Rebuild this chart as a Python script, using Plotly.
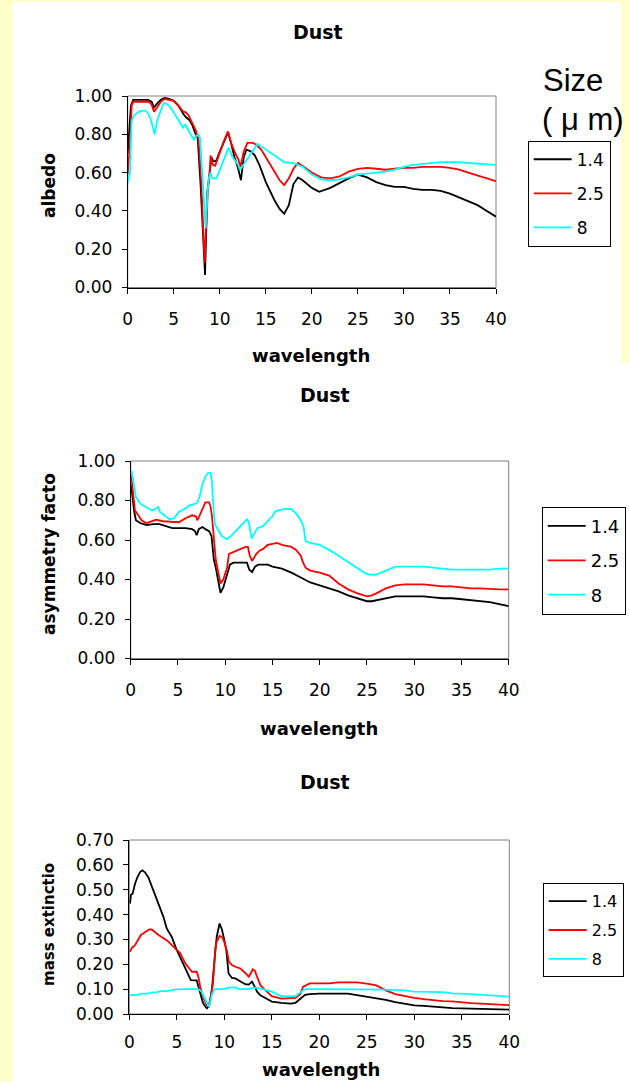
import plotly.graph_objects as go

# ---------------- data ----------------
sizes = ["1.4", "2.5", "8"]
colors = ["#000000", "#FF0000", "#00FFFF"]
x_ticks = [0, 5, 10, 15, 20, 25, 30, 35, 40]

# Panel 1: albedo
alb_x_14 = [0, 0.1, 0.35, 0.6, 1.5, 2.2, 2.6, 2.86, 3.2, 3.6, 4.0, 4.5, 5.0, 5.5, 6.0, 6.3, 6.7, 7.0, 7.3, 7.6,
            7.9, 8.1, 8.3, 8.4, 8.5, 8.65, 8.9, 9.1, 9.3, 9.6, 10.0, 10.5, 10.9, 11.2, 11.6, 12.0, 12.3, 12.6,
            12.9, 13.4, 13.8, 14.3, 15.0, 15.5, 16.0, 16.5, 17.0, 17.5, 18.0, 18.5, 19.0, 20.0, 20.8, 22, 23,
            24, 25, 26, 27, 28, 29, 30, 31, 32, 33, 34, 35, 36, 37, 38, 39, 40]
alb_14 = [0.70, 0.76, 0.95, 0.98, 0.98, 0.98, 0.97, 0.94, 0.96, 0.98, 0.99, 0.985, 0.975, 0.95, 0.91, 0.89,
          0.875, 0.85, 0.81, 0.78, 0.55, 0.35, 0.15, 0.065, 0.25, 0.50, 0.60, 0.68, 0.66, 0.66, 0.71, 0.77,
          0.81, 0.76, 0.68, 0.62, 0.56, 0.68, 0.72, 0.71, 0.69, 0.64, 0.55, 0.50, 0.45, 0.41, 0.385, 0.43,
          0.54, 0.575, 0.56, 0.52, 0.50, 0.52, 0.545, 0.57, 0.59, 0.575, 0.55, 0.535, 0.525, 0.525, 0.515,
          0.51, 0.51, 0.505, 0.49, 0.47, 0.45, 0.43, 0.40, 0.37]

alb_x_25 = [0, 0.25, 0.43, 0.6, 1.5, 2.3, 2.6, 2.86, 3.2, 3.6, 4.0, 5.0, 5.5, 6.0, 6.3, 6.6, 7.0, 7.4, 7.7, 8.0,
            8.2, 8.36, 8.5, 8.7, 8.9, 9.0, 9.25, 9.5, 9.9, 10.4, 10.9, 11.2, 11.6, 12.0, 12.25, 12.6, 13.0,
            13.6, 14.0, 14.5, 15.0, 15.5, 16.0, 16.5, 17.0, 17.5, 18.0, 18.5, 19.0, 20.0, 21, 22, 23, 24, 25,
            26, 27, 28, 29, 30, 31, 32, 33, 34, 35, 36, 37, 38, 39, 40]
alb_25 = [0.59, 0.75, 0.95, 0.97, 0.97, 0.97, 0.955, 0.918, 0.94, 0.97, 0.985, 0.975, 0.95, 0.92, 0.915, 0.9,
          0.86, 0.82, 0.77, 0.55, 0.30, 0.13, 0.30, 0.50, 0.60, 0.69, 0.64, 0.635, 0.69, 0.76, 0.815, 0.76,
          0.71, 0.67, 0.63, 0.71, 0.755, 0.755, 0.745, 0.72, 0.68, 0.64, 0.60, 0.56, 0.535, 0.57, 0.62, 0.65,
          0.635, 0.60, 0.575, 0.57, 0.58, 0.605, 0.62, 0.625, 0.62, 0.615, 0.62, 0.625, 0.625, 0.63, 0.63,
          0.63, 0.625, 0.615, 0.60, 0.585, 0.57, 0.555]

alb_x_8 = [0, 0.25, 0.43, 0.7, 1.3, 1.9, 2.2, 2.5, 2.93, 3.2, 3.4, 3.93, 4.36, 4.8, 5.3, 5.8, 6.0, 6.25, 6.86,
           7.2, 7.4, 7.7, 7.86, 8.1, 8.3, 8.46, 8.68, 8.8, 9.0, 9.18, 9.64, 10.25, 10.96, 11.4, 12.0, 12.2,
           12.8, 13.4, 14.1, 15, 16, 17, 18, 19, 20, 21, 22, 23, 24, 25, 26, 27, 28, 29, 30, 31, 32, 33, 34,
           35, 36, 37, 38, 39, 40]
alb_8 = [0.545, 0.60, 0.87, 0.90, 0.92, 0.925, 0.91, 0.88, 0.80, 0.87, 0.90, 0.965, 0.955, 0.93, 0.89, 0.85,
         0.835, 0.85, 0.80, 0.77, 0.79, 0.80, 0.78, 0.60, 0.45, 0.31, 0.50, 0.57, 0.60, 0.57, 0.57, 0.64, 0.73,
         0.68, 0.64, 0.615, 0.66, 0.70, 0.75, 0.72, 0.69, 0.655, 0.65, 0.63, 0.59, 0.565, 0.56, 0.565, 0.575,
         0.59, 0.595, 0.60, 0.605, 0.615, 0.63, 0.64, 0.645, 0.65, 0.655, 0.655, 0.655, 0.65, 0.648, 0.645, 0.64]

# Panel 2: asymmetry factor
asy_x_14 = [0.05, 0.2, 0.35, 0.55, 1.0, 1.67, 2.36, 3.05, 3.75, 4.4, 5.8, 6.5, 6.8, 6.98, 7.2, 7.6, 7.9, 8.3,
            8.55, 8.8, 9.0, 9.25, 9.5, 9.8, 10.2, 10.5, 10.87, 12.3, 12.55, 12.85, 13.15, 13.5, 14.5, 15, 16,
            17, 18, 19, 20, 21, 22, 23, 24, 25, 25.5, 26, 27, 28, 29, 30, 31, 32, 33, 34, 35, 36, 37, 38, 39, 40]
asy_14 = [0.88, 0.80, 0.75, 0.70, 0.686, 0.675, 0.68, 0.68, 0.67, 0.66, 0.66, 0.655, 0.645, 0.624, 0.655, 0.666,
          0.655, 0.645, 0.62, 0.50, 0.46, 0.40, 0.333, 0.36, 0.43, 0.475, 0.485, 0.485, 0.45, 0.438, 0.465,
          0.475, 0.475, 0.465, 0.455, 0.435, 0.41, 0.385, 0.37, 0.355, 0.34, 0.32, 0.305, 0.29, 0.29, 0.295,
          0.305, 0.315, 0.315, 0.315, 0.315, 0.31, 0.305, 0.305, 0.30, 0.295, 0.29, 0.285, 0.275, 0.265]

asy_x_25 = [0.05, 0.28, 0.45, 0.8, 1.15, 1.67, 2.36, 2.7, 3.4, 4.4, 5.1, 5.8, 6.5, 6.9, 7.05, 7.3, 7.6, 7.9, 8.3,
            8.45, 8.6, 8.8, 9.0, 9.25, 9.5, 9.8, 10.2, 10.4, 10.7, 11.4, 12.15, 12.4, 12.6, 12.85, 13.3, 13.6,
            14, 14.5, 15, 15.5, 16, 17, 17.5, 18, 18.2, 18.5, 19, 20, 21, 22, 23, 24, 25, 25.5, 26, 27, 28, 29,
            30, 31, 32, 33, 34, 35, 36, 37, 38, 39, 40]
asy_25 = [0.93, 0.82, 0.75, 0.725, 0.70, 0.685, 0.696, 0.703, 0.695, 0.69, 0.69, 0.71, 0.725, 0.72, 0.70, 0.725,
          0.76, 0.79, 0.79, 0.77, 0.72, 0.60, 0.50, 0.44, 0.38, 0.40, 0.46, 0.53, 0.535, 0.55, 0.565, 0.565,
          0.52, 0.494, 0.53, 0.545, 0.555, 0.575, 0.58, 0.585, 0.575, 0.565, 0.55, 0.52, 0.49, 0.46, 0.445,
          0.435, 0.42, 0.38, 0.35, 0.33, 0.315, 0.32, 0.33, 0.355, 0.37, 0.375, 0.375, 0.375, 0.37, 0.365,
          0.365, 0.36, 0.355, 0.355, 0.352, 0.35, 0.35]

asy_x_8 = [0.1, 0.35, 0.55, 1.0, 1.67, 2.2, 2.5, 2.9, 3.05, 3.6, 4.1, 4.6, 5.1, 5.8, 6.2, 6.7, 7.05, 7.3, 7.6, 7.9,
           8.2, 8.45, 8.6, 8.7, 8.9, 9.65, 10.2, 10.6, 11.2, 12.0, 12.3, 12.5, 12.8, 13.4, 14, 14.5, 15, 15.3,
           15.8, 16.3, 17, 17.5, 18, 18.3, 18.5, 19, 20, 21, 22, 23, 24, 24.7, 25.2, 26, 27, 28, 29, 30, 31,
           32, 33, 34, 35, 36, 37, 38, 39, 40]
asy_8 = [0.95, 0.885, 0.818, 0.784, 0.767, 0.75, 0.755, 0.767, 0.745, 0.725, 0.705, 0.71, 0.742, 0.76, 0.776,
         0.78, 0.79, 0.82, 0.885, 0.92, 0.94, 0.94, 0.90, 0.80, 0.68, 0.62, 0.604, 0.62, 0.65, 0.69, 0.705,
         0.69, 0.607, 0.66, 0.67, 0.695, 0.72, 0.745, 0.752, 0.757, 0.757, 0.735, 0.70, 0.665, 0.595, 0.585,
         0.575, 0.55, 0.52, 0.49, 0.46, 0.435, 0.425, 0.425, 0.445, 0.465, 0.465, 0.465, 0.465, 0.46, 0.455,
         0.45, 0.45, 0.45, 0.45, 0.45, 0.455, 0.455]

# Panel 3: mass extinction
ext_x_14 = [0.07, 0.18, 0.35, 0.6, 0.85, 1.13, 1.37, 1.65, 2.0, 2.2, 2.55, 3.06, 3.6, 3.94, 4.47, 5.0, 5.53,
            6.06, 6.34, 6.48, 7.1, 7.3, 7.46, 7.75, 8.0, 8.17, 8.4, 8.7, 9.05, 9.2, 9.5, 9.75, 9.93, 10.2, 10.45,
            10.8, 11.16, 11.7, 12.2, 12.57, 12.92, 13.2, 13.45, 13.8, 14.5, 15, 16, 17, 17.5, 18, 18.5, 19, 20,
            23, 24, 25, 26, 27, 28, 29, 30, 31, 32, 33, 34, 35, 36, 37, 38, 39, 40]
ext_14 = [0.444, 0.48, 0.484, 0.524, 0.55, 0.571, 0.578, 0.57, 0.55, 0.53, 0.49, 0.437, 0.39, 0.344, 0.31, 0.257,
          0.215, 0.17, 0.145, 0.136, 0.135, 0.11, 0.08, 0.045, 0.03, 0.023, 0.035, 0.10, 0.25, 0.31, 0.364,
          0.34, 0.31, 0.26, 0.163, 0.145, 0.143, 0.13, 0.12, 0.118, 0.13, 0.11, 0.09, 0.075, 0.06, 0.05, 0.045,
          0.042, 0.045, 0.06, 0.077, 0.08, 0.082, 0.082, 0.076, 0.072, 0.065, 0.057, 0.048, 0.04, 0.035, 0.033,
          0.029, 0.028, 0.024, 0.023, 0.022, 0.021, 0.02, 0.019, 0.018]

ext_x_25 = [0.07, 0.25, 0.6, 0.95, 1.2, 1.48, 1.9, 2.1, 2.36, 3.0, 4.0, 4.8, 5.35, 5.9, 6.4, 6.6, 7.1, 7.3, 7.46,
            7.8, 8.17, 8.35, 8.5, 8.8, 9.05, 9.2, 9.5, 9.75, 10.0, 10.3, 10.5, 10.8, 11.16, 11.7, 12.2, 12.57,
            12.8, 13.0, 13.2, 13.45, 13.8, 14.2, 14.5, 15, 16, 17, 17.5, 18, 18.3, 19, 20, 21, 22, 23, 24, 25,
            26, 26.5, 27, 28, 29, 30, 31, 32, 33, 34, 35, 36, 37, 38, 39, 40]
ext_25 = [0.25, 0.265, 0.277, 0.30, 0.317, 0.325, 0.337, 0.34, 0.34, 0.32, 0.295, 0.265, 0.245, 0.203, 0.176,
          0.17, 0.17, 0.145, 0.11, 0.065, 0.035, 0.03, 0.05, 0.12, 0.263, 0.29, 0.314, 0.31, 0.29, 0.25, 0.21,
          0.197, 0.19, 0.183, 0.165, 0.15, 0.165, 0.18, 0.175, 0.15, 0.116, 0.10, 0.09, 0.072, 0.062, 0.062,
          0.065, 0.08, 0.11, 0.123, 0.123, 0.123, 0.127, 0.128, 0.127, 0.122, 0.115, 0.105, 0.095, 0.08, 0.072,
          0.065, 0.06, 0.055, 0.052, 0.051, 0.047, 0.044, 0.042, 0.04, 0.038, 0.036]

ext_x_8 = [0, 1.0, 1.2, 2.0, 2.4, 3.0, 3.2, 4.0, 4.6, 5.0, 6.0, 7.3, 7.6, 7.9, 8.2, 8.35, 8.5, 8.7, 9.0, 10.0,
           10.3, 11.2, 11.5, 12.5, 13.0, 13.5, 14.0, 15.0, 15.5, 16.0, 17.5, 18.0, 18.5, 20, 26, 27, 29, 30,
           33, 34, 36, 38, 40]
ext_8 = [0.075, 0.078, 0.082, 0.082, 0.087, 0.088, 0.092, 0.092, 0.097, 0.099, 0.10, 0.10, 0.09, 0.065, 0.04,
         0.03, 0.045, 0.08, 0.10, 0.10, 0.105, 0.107, 0.10, 0.10, 0.105, 0.105, 0.10, 0.09, 0.08, 0.072, 0.072,
         0.085, 0.10, 0.10, 0.10, 0.098, 0.095, 0.09, 0.088, 0.083, 0.08, 0.076, 0.07]

# ---------------- layout helpers ----------------
W, H = 630, 1082
YELLOW = "#FFFFCC"
TICK_FONT = dict(family="DejaVu Sans", size=17, color="black")


def px(x):
    return x / W


def py(y):
    return 1 - y / H


fig = go.Figure()

panels = [
    dict(xs=[alb_x_14, alb_x_25, alb_x_8], ys=[alb_14, alb_25, alb_8]),
    dict(xs=[asy_x_14, asy_x_25, asy_x_8], ys=[asy_14, asy_25, asy_8]),
    dict(xs=[ext_x_14, ext_x_25, ext_x_8], ys=[ext_14, ext_25, ext_8]),
]
legend_ids = ["legend", "legend2", "legend3"]
for p, panel in enumerate(panels):
    ax = "" if p == 0 else str(p + 1)
    for s in range(3):
        fig.add_trace(go.Scatter(
            x=panel["xs"][s], y=panel["ys"][s], mode="lines", name=sizes[s],
            line=dict(color=colors[s], width=1.8),
            xaxis="x" + ax, yaxis="y" + ax, legend=legend_ids[p],
            legendgroup="p%d_%d" % (p, s), hoverinfo="skip"))

# plot-area pixel boxes (left, right, top, bottom)
boxes = [(127.7, 496.0, 96.0, 287.5), (130.7, 508.7, 461.0, 658.5), (129.3, 509.3, 840.0, 1014.0)]
yranges = [[0, 1.0], [0, 1.0], [0, 0.7]]
ydticks = [0.2, 0.2, 0.1]
xstand = [11, 11, 8]

layout = dict(
    width=W, height=H, autosize=False,
    margin=dict(l=0, r=0, t=0, b=0, pad=0, autoexpand=False),
    paper_bgcolor=YELLOW, plot_bgcolor="white",
    font=dict(family="DejaVu Sans", color="black"),
    showlegend=True,
)
for i, (l, r, t, b) in enumerate(boxes):
    ax = "" if i == 0 else str(i + 1)
    layout["xaxis" + ax] = dict(
        domain=[px(l), px(r)], anchor="y" + ax, range=[0, 40], tickvals=x_ticks,
        ticks="outside", ticklen=5, tickcolor="black", tickwidth=1, automargin=False,
        showline=True, linecolor="black", linewidth=1, showgrid=False, zeroline=False,
        tickfont=TICK_FONT, ticklabelstandoff=xstand[i], fixedrange=True)
    layout["yaxis" + ax] = dict(
        domain=[py(b), py(t)], anchor="x" + ax, range=yranges[i], dtick=ydticks[i], tick0=0,
        tickformat=".2f", ticks="outside", ticklen=5, tickcolor="black", tickwidth=1, automargin=False,
        showline=True, linecolor="black", linewidth=1, showgrid=False, zeroline=False,
        tickfont=TICK_FONT, ticklabelstandoff=6, fixedrange=True)

# legends
leg_pos = [(527.7, 140.7, 17, 9), (541.7, 506.7, 18, 8), (542.7, 883.3, 16, 5)]
for i, (lx, ly, fs, gap) in enumerate(leg_pos):
    layout[legend_ids[i]] = dict(
        x=px(lx), y=py(ly), xanchor="left", yanchor="top", xref="paper", yref="paper",
        bgcolor="white", bordercolor="black", borderwidth=1,
        font=dict(family="DejaVu Sans", size=fs, color="black"),
        traceorder="grouped", tracegroupgap=gap, itemwidth=38)

fig.update_layout(**layout)

# white panels and grey plot-area frames
shapes = [
    dict(type="rect", xref="paper", yref="paper", x0=px(13), x1=px(621), y0=py(363), y1=py(2),
         fillcolor="white", line=dict(width=0), layer="below"),
    dict(type="rect", xref="paper", yref="paper", x0=px(13), x1=1, y0=0, y1=py(363),
         fillcolor="white", line=dict(width=0), layer="below"),
]
for i in range(3):
    ax = "" if i == 0 else str(i + 1)
    shapes.append(dict(type="rect", xref="x%s domain" % ax, yref="y%s domain" % ax,
                       x0=0, x1=1, y0=0, y1=1, line=dict(color="#808080", width=1),
                       fillcolor="rgba(0,0,0,0)", layer="below"))
fig.update_layout(shapes=shapes)

# text: titles, axis titles, legend heading
ann = []
titles_c = [(318, 32), (325, 395), (325, 782)]
xt_c = [(311, 355), (319, 728), (321, 1069)]
yt = [("albedo", 17, 186), ("asymmetry facto", 17, 554), ("mass extinctio", 15, 925)]
for i in range(3):
    ann.append(dict(text="<b>Dust</b>", x=px(titles_c[i][0]), y=py(titles_c[i][1]), xref="paper", yref="paper",
                    xanchor="center", yanchor="middle", showarrow=False,
                    font=dict(family="DejaVu Sans", size=19, color="black")))
    ann.append(dict(text="<b>wavelength</b>", x=px(xt_c[i][0]), y=py(xt_c[i][1]), xref="paper", yref="paper",
                    xanchor="center", yanchor="middle", showarrow=False,
                    font=dict(family="DejaVu Sans", size=18, color="black")))
    ann.append(dict(text="<b>%s</b>" % yt[i][0], x=px(49), y=py(yt[i][2]), xref="paper", yref="paper",
                    xanchor="center", yanchor="middle", showarrow=False, textangle=-90,
                    font=dict(family="DejaVu Sans", size=yt[i][1], color="black")))
ann.append(dict(text="Size", x=px(541), y=py(81), xref="paper", yref="paper", xanchor="left", yanchor="middle",
                showarrow=False, font=dict(family="Liberation Sans", size=31, color="black")))
ann.append(dict(text="( μ m)", x=px(540), y=py(120), xref="paper", yref="paper", xanchor="left",
                yanchor="middle", showarrow=False, font=dict(family="Liberation Sans", size=31, color="black")))
fig.update_layout(annotations=ann)

fig.write_html("out.html", config={"displayModeBar": False},
               post_script="document.body.style.margin='0';document.body.style.padding='0';"
                           "document.documentElement.style.overflow='hidden';")
